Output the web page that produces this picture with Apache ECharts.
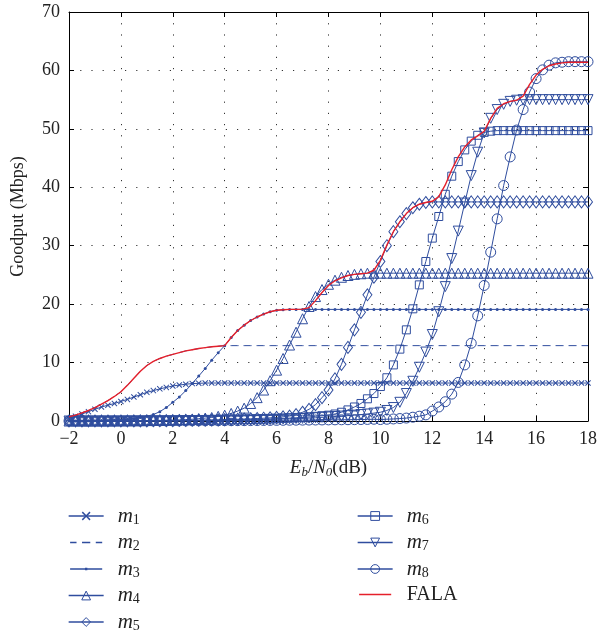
<!DOCTYPE html>
<html><head><meta charset="utf-8">
<script src="https://cdn.jsdelivr.net/npm/echarts@6/dist/echarts.min.js"></script>
<style>html,body{margin:0;padding:0;background:#fff}#c{width:600px;height:635px}</style>
</head><body><div id="c"></div>
<script>
const xs = [-2,-1.75,-1.5,-1.25,-1,-0.75,-0.5,-0.25,0,0.25,0.5,0.75,1,1.25,1.5,1.75,2,2.25,2.5,2.75,3,3.25,3.5,3.75,4,4.25,4.5,4.75,5,5.25,5.5,5.75,6,6.25,6.5,6.75,7,7.25,7.5,7.75,8,8.25,8.5,8.75,9,9.25,9.5,9.75,10,10.25,10.5,10.75,11,11.25,11.5,11.75,12,12.25,12.5,12.75,13,13.25,13.5,13.75,14,14.25,14.5,14.75,15,15.25,15.5,15.75,16,16.25,16.5,16.75,17,17.25,17.5,17.75,18];
const m1 = [0.4,0.8,1.2,1.6, 2.0,2.4,2.7,3.0, 3.35,3.7,4.1,4.5, 4.9,5.2,5.5,5.75, 6.0,6.15,6.3,6.4, 6.45,6.5,6.5,6.5,
 6.5,6.5,6.5,6.5, 6.5,6.5,6.5,6.5, 6.5,6.5,6.5,6.5, 6.5,6.5,6.5,6.5, 6.5,6.5,6.5,6.5, 6.5,6.5,6.5,6.5, 6.5,6.5,6.5,6.5,
 6.5,6.5,6.5,6.5, 6.5,6.5,6.5,6.5, 6.5,6.5,6.5,6.5, 6.5,6.5,6.5,6.5, 6.5,6.5,6.5,6.5, 6.5,6.5,6.5,6.5, 6.5,6.5,6.5,6.5, 6.5];
const m2 = [0.7,1.0,1.4,1.8, 2.3,2.9,3.5,4.2, 5.0,6.1,7.3,8.5, 9.5,10.2,10.7,11.1, 11.4,11.7,12.0,12.2, 12.4,12.55,12.7,12.8,
 12.9,12.9,12.9,12.9, 12.9,12.9,12.9,12.9, 12.9,12.9,12.9,12.9, 12.9,12.9,12.9,12.9, 12.9,12.9,12.9,12.9, 12.9,12.9,12.9,12.9,
 12.9,12.9,12.9,12.9, 12.9,12.9,12.9,12.9, 12.9,12.9,12.9,12.9, 12.9,12.9,12.9,12.9, 12.9,12.9,12.9,12.9, 12.9,12.9,12.9,12.9,
 12.9,12.9,12.9,12.9, 12.9,12.9,12.9,12.9, 12.9];
const m3 = [0,0,0.02,0.03, 0.05,0.07,0.1,0.15, 0.2,0.3,0.4,0.6, 0.8,1.1,1.6,2.3, 3.2,4.1,5.2,6.4, 7.7,9.0,10.4,11.7,
 12.9,14.3,15.5,16.4, 17.2,17.8,18.3,18.7, 18.95,19.05,19.1,19.1, 19.1,19.1,19.1,19.1, 19.1,19.1,19.1,19.1, 19.1,19.1,19.1,19.1,
 19.1,19.1,19.1,19.1, 19.1,19.1,19.1,19.1, 19.1,19.1,19.1,19.1, 19.1,19.1,19.1,19.1, 19.1,19.1,19.1,19.1, 19.1,19.1,19.1,19.1,
 19.1,19.1,19.1,19.1, 19.1,19.1,19.1,19.1, 19.1];
const m4 = [0,0,0,0, 0,0,0,0.01, 0.02,0.03,0.04,0.05, 0.07,0.09,0.11,0.14, 0.17,0.2,0.25,0.3, 0.4,0.5,0.6,0.8,
 1.0,1.3,1.7,2.2, 3.0,4.0,5.3,6.9, 8.7,10.7,13.0,15.2, 17.5,19.6,21.3,22.5, 23.4,24.1,24.6,24.9, 25.1,25.2,25.3,25.3,
 25.3,25.3,25.3,25.3, 25.3,25.3,25.3,25.3, 25.3,25.3,25.3,25.3, 25.3,25.3,25.3,25.3, 25.3,25.3,25.3,25.3, 25.3,25.3,25.3,25.3,
 25.3,25.3,25.3,25.3, 25.3,25.3,25.3,25.3, 25.3];
const m5 = [0,0,0,0, 0,0,0,0, 0.01,0.01,0.02,0.02, 0.03,0.04,0.05,0.06, 0.07,0.08,0.1,0.12, 0.14,0.16,0.18,0.2,
 0.23,0.26,0.3,0.34, 0.38,0.43,0.48,0.54, 0.62,0.72,0.85,1.1, 1.5,2.0,2.8,4.0, 5.3,7.2,9.7,12.6, 15.6,18.6,21.6,24.6,
 27.3,30.0,32.4,34.1, 35.5,36.5,37.1,37.4, 37.5,37.5,37.5,37.5, 37.5,37.5,37.5,37.5, 37.5,37.5,37.5,37.5, 37.5,37.5,37.5,37.5,
 37.5,37.5,37.5,37.5, 37.5,37.5,37.5,37.5, 37.5];
const m6 = [0,0,0,0, 0,0,0,0, 0.01,0.01,0.02,0.02, 0.03,0.03,0.04,0.05, 0.06,0.07,0.08,0.09, 0.1,0.11,0.12,0.14,
 0.16,0.18,0.2,0.22, 0.25,0.28,0.31,0.35, 0.4,0.45,0.5,0.55, 0.62,0.7,0.8,0.9, 1.0,1.2,1.5,1.9, 2.4,3.0,3.8,4.7,
 5.9,7.4,9.6,12.3, 15.6,19.2,23.3,27.3, 31.3,35.0,38.8,41.9, 44.4,46.4,47.9,48.9, 49.4,49.6,49.7,49.7, 49.7,49.7,49.7,49.7,
 49.7,49.7,49.7,49.7, 49.7,49.7,49.7,49.7, 49.7];
const m7 = [0,0,0,0, 0,0,0,0, 0,0.01,0.01,0.01, 0.02,0.02,0.03,0.03, 0.04,0.05,0.06,0.07, 0.08,0.09,0.1,0.11,
 0.12,0.14,0.16,0.18, 0.2,0.22,0.25,0.28, 0.31,0.35,0.39,0.44, 0.45,0.5,0.56,0.63, 0.7,0.77,0.84,0.92, 1.0,1.1,1.2,1.35,
 1.5,1.8,2.3,3.2, 4.7,6.8,9.2,11.8, 14.8,18.7,23.0,27.8, 32.5,37.3,42.0,46.0, 49.3,51.8,53.3,54.2, 54.7,54.9,55.0,55.0,
 55.0,55.0,55.0,55.0, 55.0,55.0,55.0,55.0, 55.0];
const m8 = [0,0,0,0, 0,0,0,0, 0,0,0,0, 0.01,0.01,0.01,0.01, 0.02,0.02,0.02,0.03, 0.03,0.03,0.04,0.04,
 0.05,0.05,0.06,0.06, 0.07,0.08,0.09,0.1, 0.11,0.12,0.13,0.14, 0.15,0.16,0.17,0.18, 0.19,0.2,0.21,0.22, 0.23,0.25,0.27,0.3,
 0.25,0.3,0.35,0.42, 0.5,0.65,0.82,1.05, 1.7,2.4,3.3,4.6, 6.6,9.6,13.3,18.0, 23.2,28.9,34.6,40.3, 45.2,49.8,53.3,56.3,
 58.6,60.1,60.9,61.3, 61.4,61.5,61.5,61.5, 61.5];
const fala = [0.7,1.0,1.4,1.8, 2.3,2.9,3.5,4.2, 5.0,6.1,7.3,8.5, 9.5,10.2,10.7,11.1, 11.4,11.7,12.0,12.2, 12.4,12.55,12.7,12.8,
 12.9,14.3,15.5,16.4, 17.2,17.8,18.3,18.7, 18.95,19.05,19.1,19.1, 19.15,19.4,20.6,22.0, 23.2,24.0,24.5,24.9, 25.1,25.2,25.3,25.8,
 27.5,30.1,32.4,34.1, 35.5,36.5,37.1,37.4, 37.6,38.4,40.4,43.0, 45.2,46.9,48.1,48.8, 49.6,51.8,53.5,54.3, 54.7,54.9,55.6,57.6,
 59.2,60.2,60.8,61.1, 61.3,61.4,61.4,61.4, 61.4];
const seriesNames = ['m1','m2','m3','m4','m5','m6','m7','m8','FALA'];
const seriesValues = [m1,m2,m3,m4,m5,m6,m7,m8,fala];
const xTicks = [-2,0,2,4,6,8,10,12,14,16,18];
const yTicks = [0,10,20,30,40,50,60,70];

const BLUE = '#2f4d9e';
const RED = '#e5202b';
const FONT = 'Liberation Serif';
const crossPath = 'path://M0,1.2 L1.2,0 L5,3.8 L8.8,0 L10,1.2 L6.2,5 L10,8.8 L8.8,10 L5,6.2 L1.2,10 L0,8.8 L3.8,5 Z';
const dotLegend = 'path://M0,0 M35,12 M0,5.3 L35,5.3 L35,6.7 L0,6.7 Z M16.2,4.6 L18.8,4.6 L18.8,7.4 L16.2,7.4 Z';
const dashLegend = 'path://M0,0 M35,12 M0,5.3 L7,5.3 L7,6.7 L0,6.7 Z M13,5.3 L22,5.3 L22,6.7 L13,6.7 Z M28,5.3 L35,5.3 L35,6.7 L28,6.7 Z';
const lineLegend = 'path://M0,0 M35,12 M0,5.3 L35,5.3 L35,6.7 L0,6.7 Z';

const styles = {
  m1: {symbol: crossPath, symbolSize: 6, filled: true},
  m2: {symbol: 'none', dashed: true},
  m3: {symbol: 'circle', symbolSize: 3, filled: true},
  m4: {symbol: 'triangle', symbolSize: 10},
  m5: {symbol: 'diamond', symbolSize: [9, 12]},
  m6: {symbol: 'rect', symbolSize: 8},
  m7: {symbol: 'triangle', symbolSize: 10, rotate: 180},
  m8: {symbol: 'circle', symbolSize: 10},
  FALA: {symbol: 'none', red: true}
};

const series = seriesNames.map((name, k) => {
  const st = styles[name];
  const s = {
    name, type: 'line',
    xAxisIndex: 0, yAxisIndex: 0,
    data: xs.map((x, i) => [x, seriesValues[k][i]]),
    symbol: st.symbol,
    showAllSymbol: true,
    clip: false,
    lineStyle: {color: st.red ? RED : BLUE, width: st.red ? 1.4 : 1, type: st.dashed ? [8, 5] : 'solid'},
    emphasis: {disabled: true},
    z: st.red ? 5 : 2
  };
  if (st.symbol !== 'none') {
    s.symbolSize = st.symbolSize;
    if (st.rotate) s.symbolRotate = st.rotate;
    s.itemStyle = st.filled ? {color: BLUE, borderWidth: 0}
      : {color: 'rgba(255,255,255,0)', borderColor: BLUE, borderWidth: 1};
  } else {
    s.itemStyle = {color: st.red ? RED : BLUE};
  }
  return s;
});

const legendRich = {
  i: {fontFamily: FONT, fontStyle: 'italic', fontSize: 21, color: '#222', lineHeight: 22, padding: [0,0,0,9]},
  s: {fontFamily: FONT, fontSize: 14, color: '#222', lineHeight: 22, verticalAlign: 'bottom', padding: [8,0,0,0]},
  n: {fontFamily: FONT, fontSize: 20, color: '#222', lineHeight: 22, padding: [0,0,0,9]}
};
const legendFmt = name => name === 'FALA' ? '{n|FALA}' : '{i|m}{s|' + name.slice(1) + '}';
const legendCommon = {
  orient: 'vertical', itemWidth: 35, itemHeight: 11, itemGap: 4.5, padding: 0, height: 150,
  formatter: legendFmt, selectedMode: false,
  lineStyle: {width: 1.3},
  itemStyle: {borderWidth: 1},
  textStyle: {rich: legendRich, fontFamily: FONT, fontSize: 20, color: '#222'}
};

const chart = echarts.init(document.getElementById('c'), null, {renderer: 'canvas'});
chart.setOption({
  animation: false,
  backgroundColor: '#fff',
  grid: {left: 69, right: 12, top: 12, bottom: 214, containLabel: false, outerBoundsMode: 'none'},
  legend: [
    Object.assign({}, legendCommon, {left: 68, top: 505, data: ['m1',{name:'m2', icon: dashLegend},{name:'m3', icon: dotLegend},'m4','m5']}),
    Object.assign({}, legendCommon, {left: 357, top: 505, data: ['m6','m7','m8',{name:'FALA', icon: lineLegend}]})
  ],
  xAxis: [{
    type: 'value', min: xTicks[0], max: xTicks[xTicks.length-1], interval: 2,
    axisLine: {show: true, onZero: false, lineStyle: {color: '#000', width: 1}},
    axisTick: {show: true, inside: true, length: 5, lineStyle: {color: '#000'}},
    axisLabel: {fontFamily: FONT, fontSize: 18, color: '#222', margin: 9,
      formatter: v => String(v).replace('-', '\u2212')},
    splitLine: {show: true, lineStyle: {color: '#333', width: 1, type: [1.2, 10]}},
    name: '{i|E}{s|b}{n|/}{i|N}{s|0}{n|(dB)}',
    nameLocation: 'middle', nameGap: 36,
    nameTextStyle: {rich: {
      i: {fontFamily: FONT, fontStyle: 'italic', fontSize: 19, color: '#222', lineHeight: 22},
      s: {fontFamily: FONT, fontStyle: 'italic', fontSize: 13, color: '#222', lineHeight: 22, verticalAlign: 'bottom', padding: [7,0,0,0]},
      n: {fontFamily: FONT, fontSize: 19, color: '#222', lineHeight: 22}
    }}
  }, {
    type: 'value', position: 'top', min: xTicks[0], max: xTicks[xTicks.length-1], interval: 2,
    axisLine: {show: true, onZero: false, lineStyle: {color: '#000', width: 1}},
    axisTick: {show: true, inside: true, length: 5, lineStyle: {color: '#000'}},
    axisLabel: {show: false}, splitLine: {show: false}
  }],
  yAxis: [{
    type: 'value', min: yTicks[0], max: yTicks[yTicks.length-1], interval: 10,
    axisLine: {show: true, onZero: false, lineStyle: {color: '#000', width: 1}},
    axisTick: {show: true, inside: true, length: 5, lineStyle: {color: '#000'}},
    axisLabel: {fontFamily: FONT, fontSize: 18, color: '#222', margin: 9},
    splitLine: {show: true, lineStyle: {color: '#333', width: 1, type: [1.2, 10]}},
    name: 'Goodput (Mbps)', nameLocation: 'middle', nameGap: 42, nameRotate: 90,
    nameTextStyle: {fontFamily: FONT, fontSize: 18, color: '#222'}
  }, {
    type: 'value', position: 'right', min: yTicks[0], max: yTicks[yTicks.length-1], interval: 10,
    axisLine: {show: true, onZero: false, lineStyle: {color: '#000', width: 1}},
    axisTick: {show: true, inside: true, length: 5, lineStyle: {color: '#000'}},
    axisLabel: {show: false}, splitLine: {show: false}
  }],
  series
});
</script>
</body></html>
